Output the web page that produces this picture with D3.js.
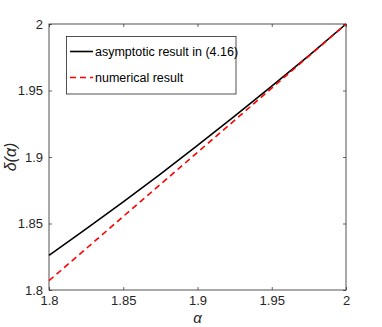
<!DOCTYPE html>
<html lang="en">
<head>
<meta charset="utf-8">
<script src="https://cdn.jsdelivr.net/npm/d3@7"></script>
<style>
  body { margin: 0; background: #fff; }
  text { font-family: "Liberation Sans", Arial, sans-serif; }
</style>
</head>
<body>
<script>
// data
var alpha = [1.8, 1.825, 1.85, 1.875, 1.9, 1.925, 1.95, 1.975, 2.0];
var asymptotic = [1.8260, 1.8459, 1.8663, 1.8872, 1.9087, 1.9307, 1.9533, 1.9763, 2.0];
var numerical = [1.8070, 1.8311, 1.8553, 1.8794, 1.9035, 1.9276, 1.9518, 1.9759, 2.0];
var xTicks = [1.8, 1.85, 1.9, 1.95, 2];
var yTicks = [1.8, 1.85, 1.9, 1.95, 2];
var legendLabels = ["asymptotic result in (4.16)", "numerical result"];

var W = 382, H = 327;
var plotL = 49, plotR = 346, plotT = 24, plotB = 290;
var axisColor = "#262626";

var svg = d3.select("body").append("svg")
    .attr("width", W).attr("height", H);

var x = d3.scaleLinear().domain([1.8, 2]).range([plotL, plotR]);
var y = d3.scaleLinear().domain([1.8, 2]).range([plotB, plotT]);

function fmt(d) { return String(+d.toFixed(2)); }

function styleTicks(g) {
    g.select(".domain").remove();
    g.selectAll("line").attr("stroke", axisColor).attr("stroke-width", 0.7);
    g.selectAll("text").attr("font-size", 13).attr("fill", axisColor)
        .attr("font-family", "Liberation Sans, Arial, sans-serif");
}

// bottom axis
svg.append("g")
    .attr("transform", "translate(0," + plotB + ")")
    .call(d3.axisBottom(x).tickValues(xTicks).tickSizeInner(-3).tickSizeOuter(0).tickPadding(6).tickFormat(fmt))
    .call(styleTicks);

// top ticks
svg.append("g")
    .attr("transform", "translate(0," + plotT + ")")
    .call(d3.axisTop(x).tickValues(xTicks).tickSizeInner(-3).tickSizeOuter(0).tickFormat(""))
    .call(styleTicks);

// left axis
svg.append("g")
    .attr("transform", "translate(" + plotL + ",0)")
    .call(d3.axisLeft(y).tickValues(yTicks).tickSizeInner(-3).tickSizeOuter(0).tickPadding(6).tickFormat(fmt))
    .call(styleTicks);

// right ticks
svg.append("g")
    .attr("transform", "translate(" + plotR + ",0)")
    .call(d3.axisRight(y).tickValues(yTicks).tickSizeInner(-3).tickSizeOuter(0).tickFormat(""))
    .call(styleTicks);

// box
svg.append("rect")
    .attr("x", plotL).attr("y", plotT)
    .attr("width", plotR - plotL).attr("height", plotB - plotT)
    .attr("fill", "none").attr("stroke", axisColor).attr("stroke-width", 0.8);

var line = d3.line()
    .x(function(d) { return x(d[0]); })
    .y(function(d) { return y(d[1]); });

svg.append("path")
    .datum(d3.zip(alpha, asymptotic))
    .attr("d", line)
    .attr("fill", "none").attr("stroke", "#000").attr("stroke-width", 1.6);

svg.append("path")
    .datum(d3.zip(alpha, numerical))
    .attr("d", line)
    .attr("fill", "none").attr("stroke", "#ff0000").attr("stroke-width", 1.6)
    .attr("stroke-dasharray", "6,4");

// legend
var lg = svg.append("g");
lg.append("rect")
    .attr("x", 66.5).attr("y", 36.5).attr("width", 169.5).attr("height", 57.5)
    .attr("fill", "#fff").attr("stroke", axisColor).attr("stroke-width", 0.8);
lg.append("line")
    .attr("x1", 70).attr("x2", 93).attr("y1", 51.5).attr("y2", 51.5)
    .attr("stroke", "#000").attr("stroke-width", 1.6);
lg.append("line")
    .attr("x1", 70).attr("x2", 93).attr("y1", 77.5).attr("y2", 77.5)
    .attr("stroke", "#ff0000").attr("stroke-width", 1.6).attr("stroke-dasharray", "6,4");
lg.selectAll("text.lab")
    .data(legendLabels)
    .enter().append("text")
    .attr("class", "lab")
    .attr("x", 95)
    .attr("y", function(d, i) { return 51.5 + i * 26; })
    .attr("dy", "0.35em")
    .attr("font-size", 12.5)
    .attr("fill", "#000")
    .text(function(d) { return d; });

// axis labels
svg.append("text")
    .attr("x", (plotL + plotR) / 2).attr("y", 323)
    .attr("text-anchor", "middle")
    .attr("font-family", "Liberation Serif, serif").attr("font-style", "italic")
    .attr("font-size", 15).attr("fill", axisColor)
    .text("α");

svg.append("text")
    .attr("transform", "translate(16," + (plotT + plotB) / 2 + ") rotate(-90)")
    .attr("text-anchor", "middle")
    .attr("font-family", "Liberation Serif, serif").attr("font-style", "italic")
    .attr("font-size", 16).attr("fill", axisColor)
    .text("δ(α)");
</script>
</body>
</html>
